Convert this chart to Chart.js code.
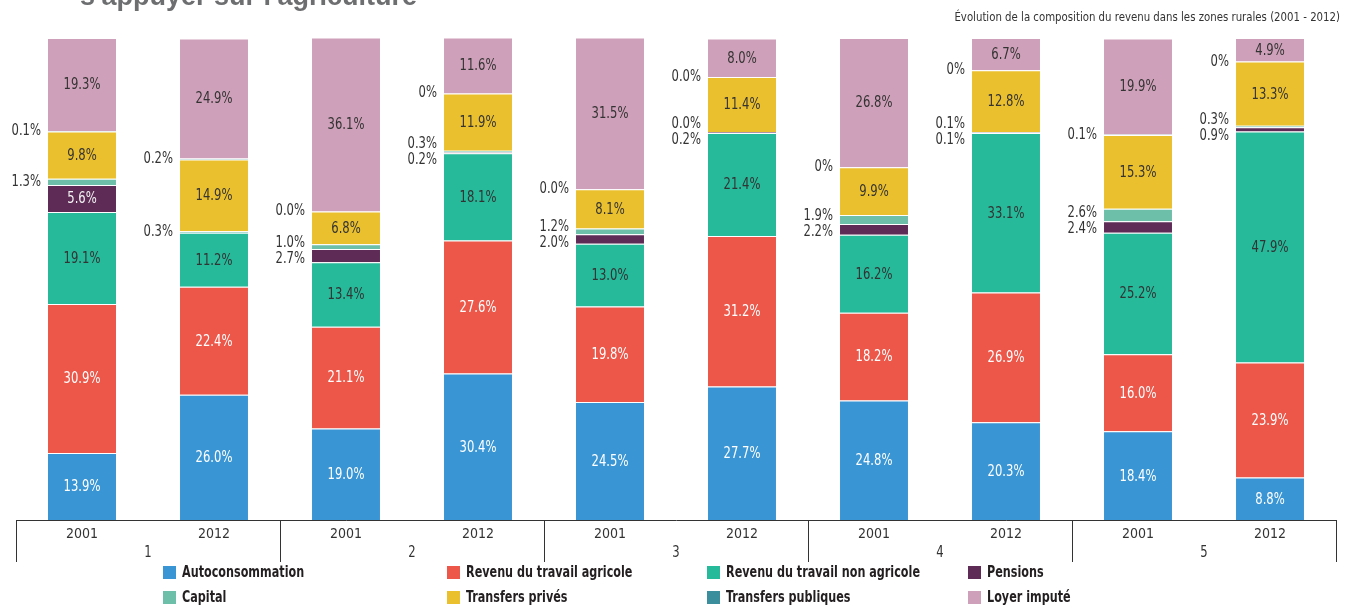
<!DOCTYPE html>
<html><head><meta charset="utf-8">
<script src="https://cdn.jsdelivr.net/npm/chart.js@4.4.1/dist/chart.umd.min.js"></script>
<style>html,body{margin:0;padding:0;background:#fff;}#wrap{width:1352px;height:609px;position:relative;}</style>
</head><body><div id="wrap"><canvas id="c" width="1352" height="609"></canvas></div>
<script>
const groups = ['1', '2', '3', '4', '5'];
const categories = ['2001', '2012', '2001', '2012', '2001', '2012', '2001', '2012', '2001', '2012'];
const autoconsommation   = [13.9, 26.0, 19.0, 30.4, 24.5, 27.7, 24.8, 20.3, 18.4, 8.8];
const revenuAgricole     = [30.9, 22.4, 21.1, 27.6, 19.8, 31.2, 18.2, 26.9, 16.0, 23.9];
const revenuNonAgricole  = [19.1, 11.2, 13.4, 18.1, 13.0, 21.4, 16.2, 33.1, 25.2, 47.9];
const pensions           = [5.6, null, 2.7, 0.2, 2.0, 0.2, 2.2, 0.1, 2.4, 0.9];
const capital            = [1.3, 0.3, 1.0, 0.3, 1.2, 0.0, 1.9, 0.1, 2.6, 0.3];
const transfersPrives    = [9.8, 14.9, 6.8, 11.9, 8.1, 11.4, 9.9, 12.8, 15.3, 13.3];
const transfersPubliques = [0.1, 0.2, 0.0, 0, 0.0, 0.0, 0, 0, 0.1, 0];
const transfersPubliquesText = ['0.1%', '0.2%', '0.0%', '0%', '0.0%', '0.0%', '0%', '0%', '0.1%', '0%'];
const loyerImpute        = [19.3, 24.9, 36.1, 11.6, 31.5, 8.0, 26.8, 6.7, 19.9, 4.9];

const headerText = "s'appuyer sur l'agriculture";
const subtitleText = 'Évolution de la composition du revenu dans les zones rurales (2001 - 2012)';

const NARROW = "'Liberation Sans Narrow', 'DejaVu Sans Condensed', 'Roboto Condensed', sans-serif";

function ds(label, data, color, textColor, texts) {
  return {
    label, data, backgroundColor: color, textColor, texts,
    borderColor: 'rgba(255,255,255,0.55)',
    borderWidth: {top: 1, left: 0, right: 0, bottom: 0},
    borderSkipped: 'start',
    barPercentage: 0.515, categoryPercentage: 1
  };
}

const datasets = [
  ds('Autoconsommation', autoconsommation, '#3a95d5', '#ffffff'),
  ds('Revenu du travail agricole', revenuAgricole, '#ec574a', '#ffffff'),
  ds('Revenu du travail non agricole', revenuNonAgricole, '#26b99a', '#333333'),
  ds('Pensions', pensions, '#5e2b57', '#f2f2f2'),
  ds('Capital', capital, '#6ebfa9', '#333333'),
  ds('Transfers privés', transfersPrives, '#ebc02e', '#333333'),
  ds('Transfers publiques', transfersPubliques, '#3b8e9c', '#333333', transfersPubliquesText),
  ds('Loyer imputé', loyerImpute, '#cfa0b9', '#333333')
];

function narrowText(ctx, txt, x, y, sx) {
  ctx.save();
  ctx.translate(x, y);
  ctx.scale(sx, 1);
  ctx.fillText(txt, 0, 0);
  ctx.restore();
}

const decorPlugin = {
  id: 'decor',
  afterDraw(chart) {
    const ctx = chart.ctx;
    const x = chart.scales.x;
    const area = chart.chartArea;
    ctx.save();
    // header (cut off at top) and subtitle
    ctx.fillStyle = '#6d6e70';
    ctx.font = "bold 27px 'Liberation Sans', 'DejaVu Sans', sans-serif";
    ctx.textAlign = 'left';
    ctx.textBaseline = 'alphabetic';
    ctx.fillText(headerText, 80, 5);
    ctx.fillStyle = '#333333';
    ctx.font = '13px ' + NARROW;
    ctx.textAlign = 'right';
    ctx.textBaseline = 'middle';
    narrowText(ctx, subtitleText, 1340, 18, 0.87);

    // group separators and group labels
    ctx.strokeStyle = '#333333';
    ctx.lineWidth = 1;
    const bounds = [area.left];
    for (let g = 1; g < groups.length; g++) {
      bounds.push((x.getPixelForValue(2 * g - 1) + x.getPixelForValue(2 * g)) / 2);
    }
    bounds.push(area.right);
    bounds.forEach(b => {
      const bx = Math.round(b) + 0.5;
      ctx.beginPath();
      ctx.moveTo(bx, area.bottom);
      ctx.lineTo(bx, area.bottom + 42);
      ctx.stroke();
    });
    ctx.fillStyle = '#333333';
    ctx.font = '15px ' + NARROW;
    ctx.textAlign = 'center';
    ctx.textBaseline = 'middle';
    groups.forEach((g, i) => {
      const gx = (x.getPixelForValue(2 * i) + x.getPixelForValue(2 * i + 1)) / 2;
      narrowText(ctx, g, gx, 553, 0.86);
    });

    // data labels
    const n = categories.length;
    for (let i = 0; i < n; i++) {
      const outside = [];
      chart.data.datasets.forEach((d, di) => {
        const v = d.data[i];
        if (v === null || v === undefined) return;
        const el = chart.getDatasetMeta(di).data[i];
        if (!el) return;
        const cy = (el.y + el.base) / 2;
        const txt = d.texts ? d.texts[i] : v.toFixed(1) + '%';
        if (v >= 4) {
          ctx.fillStyle = d.textColor;
          ctx.font = '15px ' + NARROW;
          ctx.textAlign = 'center';
          ctx.textBaseline = 'middle';
          narrowText(ctx, txt, el.x, cy + 1, 0.86);
        } else {
          outside.push({y: cy, txt, left: el.x - el.width / 2});
        }
      });
      outside.sort((a, b) => a.y - b.y);
      const gap = 16;
      for (let it = 0; it < 20; it++) {
        for (let k = 1; k < outside.length; k++) {
          const a = outside[k - 1], b = outside[k];
          if (b.y - a.y < gap) {
            const mid = (a.y + b.y) / 2;
            a.y = mid - gap / 2;
            b.y = mid + gap / 2;
          }
        }
      }
      outside.forEach(o => {
        ctx.fillStyle = '#333333';
        ctx.font = '15px ' + NARROW;
        ctx.textAlign = 'right';
        ctx.textBaseline = 'middle';
        narrowText(ctx, o.txt, o.left - 7, o.y, 0.86);
      });
    }

    // legend
    const cols = [163, 447, 707, 968];
    const rows = [573, 598];
    chart.data.datasets.forEach((d, di) => {
      const cx = cols[di % 4];
      const cy = rows[Math.floor(di / 4)];
      ctx.fillStyle = d.backgroundColor;
      ctx.fillRect(cx, cy - 7, 13, 13);
      ctx.fillStyle = '#231f20';
      ctx.font = 'bold 15px ' + NARROW;
      ctx.textAlign = 'left';
      ctx.textBaseline = 'middle';
      narrowText(ctx, d.label, cx + 19, cy, 0.83);
    });
    ctx.restore();
  }
};

new Chart(document.getElementById('c'), {
  type: 'bar',
  data: {labels: categories, datasets},
  options: {
    responsive: false,
    animation: false,
    events: [],
    layout: {padding: {top: 38, left: 16, right: 16, bottom: 0}},
    plugins: {legend: {display: false}, title: {display: false}, tooltip: {enabled: false}},
    scales: {
      x: {
        stacked: true,
        grid: {display: false, drawTicks: false},
        border: {display: true, color: '#333333', width: 1},
        ticks: {color: '#333333', font: {family: NARROW, size: 14}, padding: 6, maxRotation: 0, autoSkip: false},
        afterFit(scale) { scale.height = 89; }
      },
      y: {
        stacked: true, display: false, min: 0, max: 100
      }
    }
  },
  plugins: [decorPlugin]
});
</script>
</body></html>
